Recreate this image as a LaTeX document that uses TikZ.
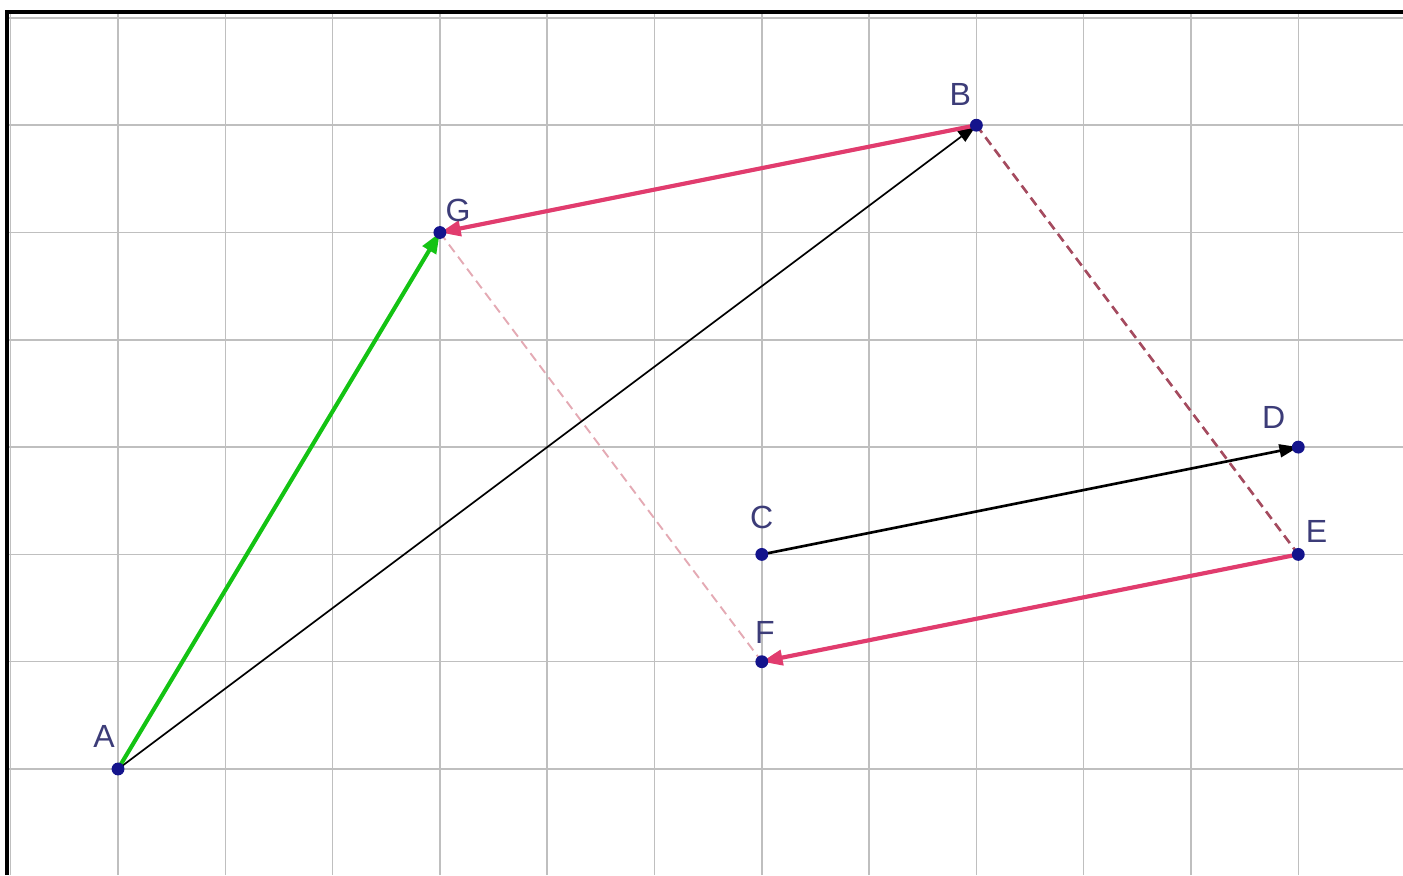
\documentclass[tikz,border=0pt]{standalone}
\usepackage{fontspec}
\usepackage{xcolor}
\usepackage{tikz}
\usetikzlibrary{arrows.meta, positioning, backgrounds}
\newfontfamily\lblfont{Liberation Sans}
\definecolor{vecgreen}{RGB}{20,195,20}
\definecolor{vecpink}{RGB}{225,60,110}
\definecolor{dashdark}{RGB}{165,75,95}
\definecolor{dashlight}{RGB}{228,170,180}
\definecolor{ptblue}{RGB}{20,20,140}
\definecolor{lblblue}{RGB}{60,60,120}
\tikzstyle{thinarrow} = [-{Triangle[length=5pt,width=3.4pt]}]
\tikzstyle{thickarrow} = [line width=1.1pt,-{Triangle[length=5.5pt,width=4pt]}]

\begin{document}
\begin{tikzpicture}[
    pt/.style={
        circle,
        fill=ptblue,
        inner sep=0pt,
        minimum size=0.12cm
    },
    lbl/.style={
        font=\lblfont\fontsize{8.5}{10}\selectfont,
        text=lblblue,
        inner sep=0pt
    },
    gridline/.style={
        line width=0.4pt,
        gray!50
    }
]
    \useasboundingbox (-1.1,-0.988) rectangle (11.976,7.167);

    \begin{scope}[on background layer]
        \clip (-1.035,-0.988) rectangle (11.976,7.055);
        \draw[gridline] (-1.1,-0.988) grid (11.976,7.167);
    \end{scope}
    \draw[line width=1.2pt] (-1.035,-0.988) -- (-1.035,7.055) -- (11.976,7.055);

    \node[pt] (A) at (0,0) {};
    \node[pt] (G) at (3,5) {};
    \node[pt] (B) at (8,6) {};
    \node[pt] (C) at (6,2) {};
    \node[pt] (D) at (11,3) {};
    \node[pt] (E) at (11,2) {};
    \node[pt] (F) at (6,1) {};

    \node[lbl, xshift=-0.13cm, yshift=0.30cm] (labelA) at (A) {A};
    \node[lbl, xshift=0.17cm, yshift=0.21cm] (labelG) at (G) {G};
    \node[lbl, xshift=-0.15cm, yshift=0.29cm] (labelB) at (B) {B};
    \node[lbl, xshift=0cm, yshift=0.34cm] (labelC) at (C) {C};
    \node[lbl, xshift=-0.23cm, yshift=0.28cm] (labelD) at (D) {D};
    \node[lbl, xshift=0.17cm, yshift=0.21cm] (labelE) at (E) {E};
    \node[lbl, xshift=0.03cm, yshift=0.27cm] (labelF) at (F) {F};

    \begin{scope}[on background layer]
        \draw[dashlight, line width=0.5pt, dash pattern=on 2.5pt off 1.5pt] (G.center) -- (F.center);
        \draw[dashdark, line width=0.7pt, dash pattern=on 2.5pt off 1.5pt] (B.center) -- (E.center);
        \draw[thinarrow, line width=0.45pt] (A.center) -- (B.center);
        \draw[thinarrow, line width=0.7pt] (C.center) -- (D.center);
        \draw[thickarrow, vecgreen] (A.center) -- (G.center);
        \draw[thickarrow, vecpink] (B.center) -- (G.center);
        \draw[thickarrow, vecpink] (E.center) -- (F.center);
    \end{scope}
\end{tikzpicture}
\end{document}
